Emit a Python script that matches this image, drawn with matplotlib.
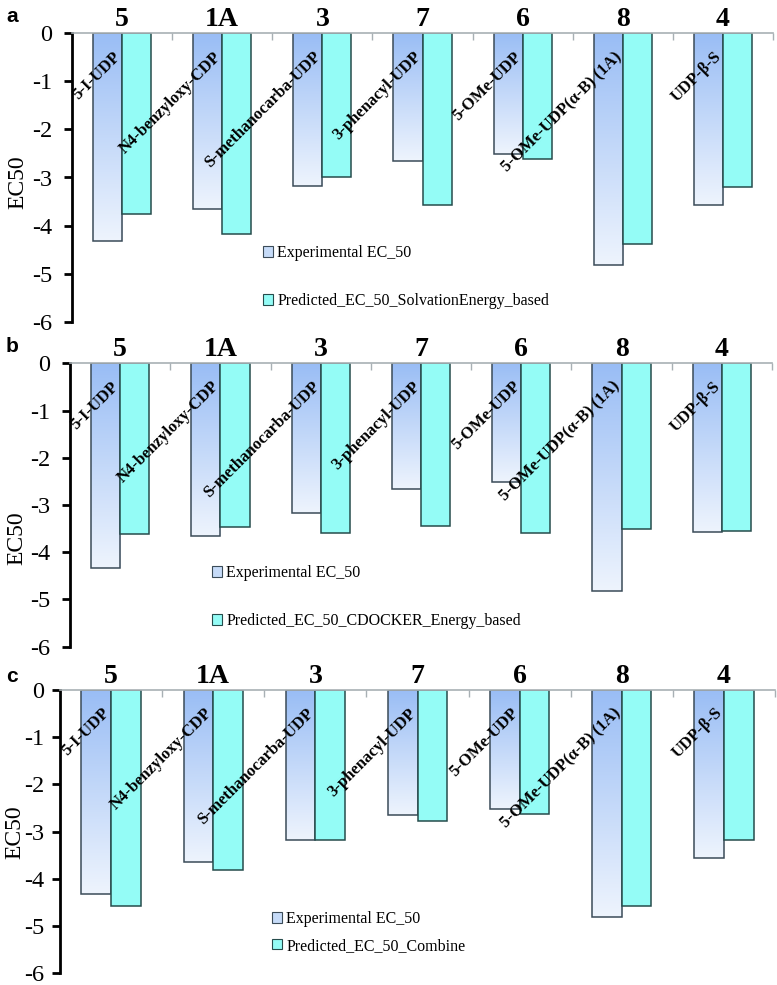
import numpy as np
import matplotlib
matplotlib.use('Agg')
import matplotlib.pyplot as plt
from matplotlib.patches import Patch
from matplotlib.colors import LinearSegmentedColormap

plt.rcParams['font.family'] = ['Liberation Serif', 'DejaVu Serif']

# --- DATA ---
compounds = ['5-I-UDP', 'N4-benzyloxy-CDP', 'S-methanocarba-UDP', '3-phenacyl-UDP',
             '5-OMe-UDP', '5-OMe-UDP(\u03b1-B) (1A)', 'UDP-\u03b2-S']
ids = ['5', '1A', '3', '7', '6', '8', '4']
exp_ec50 = [-4.33, -3.65, -3.17, -2.66, -2.52, -4.82, -3.57]
pred_solv = [-3.75, -4.18, -3.00, -3.57, -2.62, -4.38, -3.20]
pred_cdocker = [-3.62, -3.46, -3.59, -3.44, -3.59, -3.51, -3.55]
pred_combine = [-4.58, -3.82, -3.18, -2.78, -2.62, -4.59, -3.18]
yticks = [0, -1, -2, -3, -4, -5, -6]

panels = [
    # letter, predicted series, legend label, axes box (px: left, right, top, bottom),
    # legend (x, yc, spacing), ylabel (right edge px, y frac), tick pad
    ('a', pred_solv, 'Predicted_EC_50_SolvationEnergy_based', (72, 773, 33.3, 321.7), (263, 277, 2.0), (28, 0.484), 8),
    ('b', pred_cdocker, 'Predicted_EC_50_CDOCKER_Energy_based', (70, 772, 363.3, 646.7), (212, 597, 2.0), (27, 0.384), 8),
    ('c', pred_combine, 'Predicted_EC_50_Combine', (60, 775, 690, 973), (272, 932.5, 0.66), (25, 0.498), 5.5),
]

W, H = 777, 985
EXP_EDGE = '#3b4b58'
PRED_EDGE = '#264c4c'
PRED_FACE = '#94fcf6'
grad_cmap = LinearSegmentedColormap.from_list('expgrad', ['#eef4fd', '#99bdf5'])
grad = np.linspace(0, 1, 256).reshape(-1, 1)

fig = plt.figure(figsize=(W / 100, H / 100), dpi=100)

for letter, pred, pred_label, (l, r, t, b), (lx, ly, lsp), (ylx, yly), tpad in panels:
    ax = fig.add_axes([l / W, 1 - b / H, (r - l) / W, (b - t) / H])
    x = np.arange(len(compounds))
    bw = 0.29

    exp_bars = ax.bar(x + 0.5 - bw / 2, exp_ec50, width=bw, facecolor='none',
                      edgecolor=EXP_EDGE, linewidth=1.1, zorder=3)
    for bar in exp_bars:
        x0 = bar.get_x()
        y0 = bar.get_y() + bar.get_height()
        im = ax.imshow(grad, extent=[x0, x0 + bw, y0, 0], origin='lower',
                       aspect='auto', cmap=grad_cmap, zorder=2)
        im.set_clip_path(bar)
    ax.bar(x + 0.5 + bw / 2, pred, width=bw, color=PRED_FACE,
           edgecolor=PRED_EDGE, linewidth=1.1, zorder=3)

    ax.set_xlim(0, len(compounds))
    ax.set_ylim(-6, 0)

    # spines / ticks
    ax.spines['right'].set_visible(False)
    ax.spines['bottom'].set_visible(False)
    ax.spines['left'].set_linewidth(2)
    ax.spines['left'].set_color('black')
    ax.spines['top'].set_color('#a8b0b4')
    ax.spines['top'].set_linewidth(1.2)
    ax.spines['top'].set_zorder(4)
    ax.xaxis.tick_top()
    ax.set_xticks(range(len(compounds) + 1))
    ax.set_xticklabels([])
    ax.tick_params(axis='x', direction='in', length=5, width=1, color='#a8b0b4')
    ax.set_yticks(yticks)
    ax.set_yticklabels([str(v) for v in yticks])
    ax.tick_params(axis='y', direction='out', length=6, width=2, pad=tpad,
                   labelsize=17.5, color='black')

    ax.set_ylabel('EC50', fontsize=17)
    ax.yaxis.set_label_coords((ylx - l) / (r - l), yly)

    # compound ids above the zero line
    for i, cid in enumerate(ids):
        ax.text(i + 0.5, 0.02, cid, ha='center', va='bottom', fontsize=20,
                fontweight='bold', clip_on=False)

    # rotated compound names
    for i, name in enumerate(compounds):
        ax.text(i + 0.52, -0.56, name, rotation=45, rotation_mode='anchor',
                ha='right', va='bottom', fontsize=12, fontweight='bold', zorder=5)

    handles = [Patch(facecolor='#c6dbf8', edgecolor=EXP_EDGE, linewidth=0.8),
               Patch(facecolor=PRED_FACE, edgecolor=PRED_EDGE, linewidth=0.8)]
    ax.legend(handles, ['Experimental EC_50', pred_label], loc='center left',
              bbox_to_anchor=(lx / W, 1 - ly / H), bbox_transform=fig.transFigure,
              frameon=False, fontsize=11.5, handlelength=0.65, handleheight=0.65,
              handletextpad=0.25, labelspacing=lsp, borderpad=0, borderaxespad=0)

    fig.text(12 / W, 1 - {'a': 16, 'b': 347, 'c': 677}[letter] / H, letter,
             family='Liberation Sans', fontweight='bold', fontsize=15,
             ha='center', va='center')

fig.savefig('out.png', dpi=100)
